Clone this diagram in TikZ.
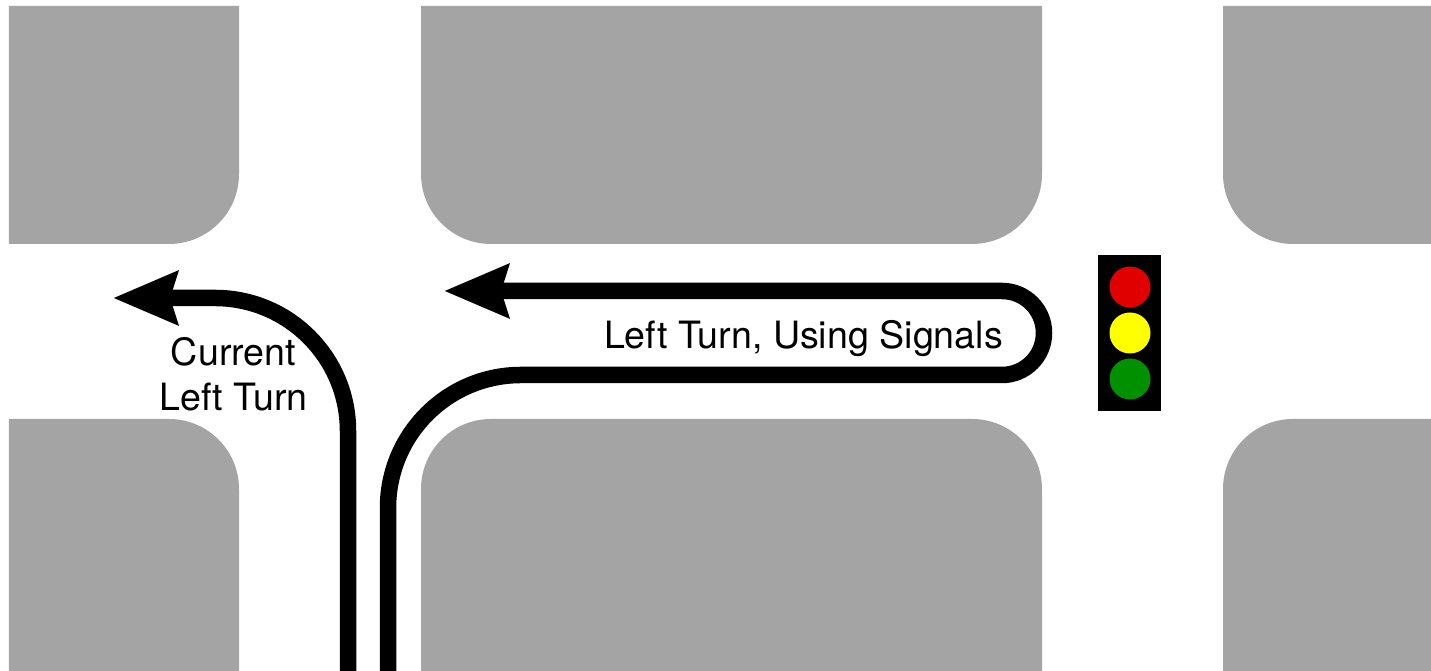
\documentclass[tikz,border=0pt]{standalone}
\usepackage{fontspec}
\setmainfont{TeX Gyre Heros}
\usetikzlibrary{arrows.meta}
\definecolor{blockgray}{HTML}{A4A4A4}
\definecolor{lampred}{HTML}{E00000}
\definecolor{lampyellow}{HTML}{FFFF00}
\definecolor{lampgreen}{HTML}{009000}
\newcommand{\blockradius}{0.7cm}
\newcommand{\routewidth}{1.65mm}
\tikzset{
  block/.style={fill=blockgray},
  route/.style={draw=black, line width=\routewidth, -{Stealth[length=6.4mm, width=5.2mm, inset=0.7mm]}},
  roadtext/.style={font=\fontsize{10.7}{12.8}\selectfont, inner sep=0pt, align=center},
  lamp/.style={circle, inner sep=0pt, minimum size=4.1mm}
}

\begin{document}
\begin{tikzpicture}
\useasboundingbox (0,0) rectangle (14.31,-6.71);
%top row
\fill[block] (0.09,-0.06) -- (2.39,-0.06) [rounded corners=\blockradius] -- (2.39,-2.44) [sharp corners] -- (0.09,-2.44) -- cycle;
\fill[block] (4.21,-0.06) -- (10.42,-0.06) [rounded corners=\blockradius] -- (10.42,-2.44) -- (4.21,-2.44) [sharp corners] -- cycle;
\fill[block] (14.31,-0.06) -- (14.31,-2.44) [rounded corners=\blockradius] -- (12.23,-2.44) [sharp corners] -- (12.23,-0.06) -- cycle;
%bottom row
\fill[block] (0.09,-6.71) -- (0.09,-4.19) [rounded corners=\blockradius] -- (2.39,-4.19) [sharp corners] -- (2.39,-6.71) -- cycle;
\fill[block] (4.21,-6.71) [rounded corners=\blockradius] -- (4.21,-4.19) -- (10.42,-4.19) [sharp corners] -- (10.42,-6.71) -- cycle;
\fill[block] (14.31,-6.71) -- (14.31,-4.19) [rounded corners=\blockradius] -- (12.23,-4.19) [sharp corners] -- (12.23,-6.71) -- cycle;
%routes
\coordinate (currentstart) at (3.48,-6.71);
\coordinate (currentend) at (1.13,-2.98);
\coordinate (signalstart) at (3.88,-6.71);
\coordinate (signalbend) at (3.88,-3.75);
\coordinate (signalright) at (10.44,-3.75);
\coordinate (signaltop) at (10.44,-2.91);
\coordinate (signalend) at (4.44,-2.91);
\draw[route, rounded corners=1.33cm] (currentstart) |- (currentend);
\draw[route] (signalstart) [rounded corners=1.33cm] -- (signalbend) [rounded corners=0.42cm] -- (signalright) -- (signaltop) -- (signalend);
%labels
\node[roadtext] (currentlabel) at (2.335,-3.74) {Current\\Left Turn};
\node[roadtext, anchor=base] (signallabel) at (8.035,-3.485) {Left Turn, Using Signals};
%traffic light
\node[fill=black, inner sep=0pt, minimum width=6.3mm, minimum height=15.6mm] (housing) at (11.295,-3.33) {};
\node[lamp, fill=lampred] (redlamp) at (11.30,-2.87) {};
\node[lamp, fill=lampyellow] (yellowlamp) at (11.30,-3.33) {};
\node[lamp, fill=lampgreen] (greenlamp) at (11.30,-3.79) {};
\end{tikzpicture}
\end{document}
